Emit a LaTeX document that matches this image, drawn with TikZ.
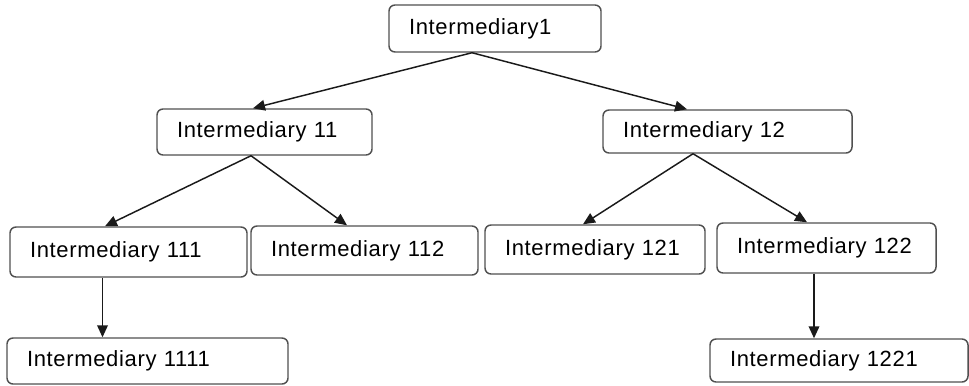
\documentclass[tikz,border=0pt]{standalone}
\usepackage{fontspec}
\setmainfont{Liberation Sans}
\usetikzlibrary{arrows.meta}
\definecolor{boxline}{HTML}{505050}
\definecolor{arrline}{HTML}{1A1A1A}
\tikzset{
  ibox/.style={draw=boxline, line width=1.1pt, rounded corners=4.5pt, fill=white,
    inner xsep=15pt, inner ysep=0pt, align=left, text=black,
    font=\fontsize{16.5}{19}\selectfont\addfontfeatures{LetterSpace=3}},
  arr/.style={draw=arrline, line width=1.1pt, -{Triangle[length=9pt,width=8pt]}},
  vline/.style={draw=arrline, line width=1.1pt, -{Triangle[length=9pt,width=8pt]}}
}
\begin{document}
\begin{tikzpicture}[x=0.75pt,y=-0.75pt]
\useasboundingbox (0,0) rectangle (969,385);
\node[ibox, text width=129pt, minimum height=35.25pt] (n1) at (495,28.5) {Intermediary1};
\node[ibox, text width=131.25pt, minimum height=34.5pt] (n11) at (264.5,132) {Intermediary 11};
\node[ibox, text width=156.75pt, minimum height=32.25pt] (n12) at (727.5,131.5) {Intermediary 12};
\node[ibox, text width=147.75pt, minimum height=37.5pt] (n111) at (128.5,252) {Intermediary 111};
\node[ibox, text width=140.25pt, minimum height=36.75pt] (n112) at (364.5,250.5) {Intermediary 112};
\node[ibox, text width=135pt, minimum height=36.75pt] (n121) at (595,249.5) {Intermediary 121};
\node[ibox, text width=134.25pt, minimum height=37.5pt] (n122) at (826.5,248) {Intermediary 122};
\node[ibox, text width=180.75pt, minimum height=34.5pt] (n1111) at (147.5,361) {Intermediary 1111};
\node[ibox, text width=163.5pt, minimum height=32.25pt] (n1221) at (839,360.5) {Intermediary 1221};

\draw[arr] ([xshift=-17.25pt]n1.south) -- ([xshift=-8.625pt]n11.north);
\draw[arr] ([xshift=-17.25pt]n1.south) -- ([xshift=-30.375pt]n12.north);
\draw[arr] ([xshift=-10.125pt]n11.south) -- ([xshift=-17.625pt]n111.north);
\draw[arr] ([xshift=-10.125pt]n11.south) -- ([xshift=-13.125pt]n112.north);
\draw[arr] ([xshift=-25.875pt]n12.south) -- ([xshift=-9pt]n121.north);
\draw[arr] ([xshift=-25.875pt]n12.south) -- ([xshift=-14.625pt]n122.north);
\coordinate (v1) at ([xshift=-19.5pt]n111.south);
\coordinate (v2) at ([xshift=-9.375pt]n122.south);
\draw[vline] (v1) -- (v1 |- n1111.north);
\draw[vline] (v2) -- (v2 |- n1221.north);
\end{tikzpicture}
\end{document}
